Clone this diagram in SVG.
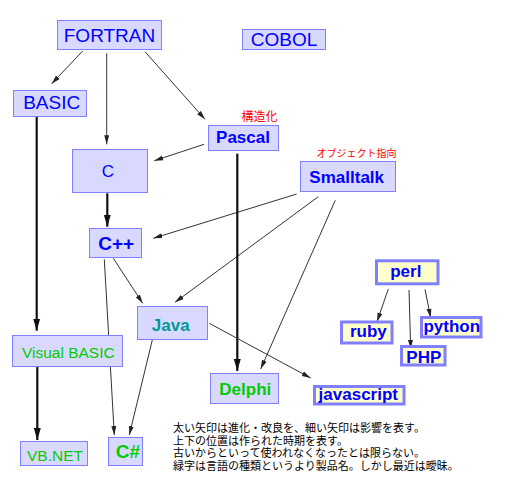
<svg xmlns="http://www.w3.org/2000/svg" width="512" height="492" viewBox="0 0 512 492">
<style>
.b{fill:#d9d9ff;stroke:#8080ff;stroke-width:1}
.y{fill:#ffffcc;stroke:#8080ff;stroke-width:3}
text{font-family:"Liberation Sans",Arial,sans-serif;text-anchor:middle}
.tb{fill:#0000ff}
.bold{font-weight:bold}
.tg{fill:#00cc00}
.tt{fill:#009999}
.thin{stroke:#333;stroke-width:1;fill:none;marker-end:url(#ah)}
.thick{stroke:#111;stroke-width:2.2;fill:none;marker-end:url(#ahb)}
.jp{font-family:"Noto Sans CJK JP",sans-serif;text-anchor:start}
</style>
<defs>
<marker id="ah" markerUnits="userSpaceOnUse" markerWidth="10" markerHeight="6" refX="9" refY="3" orient="auto"><path d="M0,0.5 L9,3 L0,5.5 z" fill="#222"/></marker>
<marker id="ahb" markerUnits="userSpaceOnUse" markerWidth="13" markerHeight="8" refX="12" refY="4" orient="auto"><path d="M0,0.5 L12,4 L0,7.5 z" fill="#111"/></marker>
</defs>
<rect width="512" height="492" fill="#fff"/>
<g id="connectors">
<line class="thin" x1="82.7" y1="51" x2="51.7" y2="83.7"/>
<line class="thin" x1="106.7" y1="53.3" x2="106.7" y2="144.3"/>
<line class="thin" x1="145" y1="51.7" x2="205" y2="119.3"/>
<line class="thin" x1="204" y1="144.3" x2="154.3" y2="160.7"/>
<line class="thick" x1="107.3" y1="193.3" x2="107.3" y2="226.7"/>
<line class="thick" x1="36.7" y1="116.7" x2="36.7" y2="330.7"/>
<line class="thin" x1="296.7" y1="194" x2="153.3" y2="238.3"/>
<line class="thin" x1="318.3" y1="196.7" x2="175" y2="302.3"/>
<line class="thin" x1="335.3" y1="200.3" x2="260.7" y2="369"/>
<line class="thick" x1="237.3" y1="153.7" x2="237.3" y2="371"/>
<line class="thin" x1="113.3" y1="258.3" x2="142.7" y2="303.3"/>
<line class="thin" x1="104.3" y1="259.3" x2="114.3" y2="435"/>
<line class="thin" x1="152.3" y1="340" x2="129.3" y2="435"/>
<line class="thin" x1="209.3" y1="323.3" x2="310.7" y2="378"/>
<line class="thick" x1="37.3" y1="366.7" x2="37.3" y2="440"/>
<line class="thin" x1="388.3" y1="289" x2="377" y2="321.7"/>
<line class="thin" x1="409" y1="290" x2="410.7" y2="349"/>
<line class="thin" x1="425" y1="289.3" x2="430.7" y2="317.7"/>
</g>
<g id="fortran"><rect class="b" x="57.5" y="20.5" width="104" height="29"/><text class="tb" x="109.5" y="41.5" font-size="19">FORTRAN</text></g>
<g id="cobol"><rect class="b" x="242.5" y="29.5" width="83" height="20"/><text class="tb" x="284" y="45.5" font-size="19">COBOL</text></g>
<g id="basic"><rect class="b" x="13.5" y="90.5" width="73" height="26"/><text class="tb" x="51.7" y="109" font-size="19">BASIC</text></g>
<g id="pascal"><rect class="b" x="208.5" y="125.5" width="70" height="25"/><text class="tb bold" x="243" y="143.3" font-size="17">Pascal</text><text class="jp" x="241.5" y="121" font-size="12" fill="#ff0000">構造化</text></g>
<g id="c"><rect class="b" x="72.5" y="149.5" width="75" height="43"/><text class="tb" x="108" y="177.3" font-size="17">C</text></g>
<g id="smalltalk"><rect class="b" x="300.5" y="161.5" width="95" height="30"/><text class="tb bold" x="346.7" y="182.7" font-size="17">Smalltalk</text><text class="jp" x="316.5" y="157" font-size="10" fill="#ff0000">オブジェクト指向</text></g>
<g id="cpp"><rect class="b" x="89.5" y="228.5" width="52" height="29"/><text class="tb bold" x="116.2" y="249.5" font-size="19">C++</text></g>
<g id="java"><rect class="b" x="137.5" y="306.5" width="70" height="33"/><text class="tt bold" x="170.7" y="330.7" font-size="17">Java</text></g>
<g id="visualbasic"><rect class="b" x="12.5" y="335.5" width="110" height="31"/><text class="tg" x="68.3" y="357.5" font-size="15.5">Visual BASIC</text></g>
<g id="vbnet"><rect class="b" x="20.5" y="441.5" width="67" height="24"/><text class="tg" x="55" y="460.5" font-size="15.5">VB.NET</text></g>
<g id="csharp"><rect class="b" x="108.5" y="437.5" width="34" height="28"/><text class="tg bold" x="128" y="458.3" font-size="19">C#</text></g>
<g id="delphi"><rect class="b" x="210.5" y="373.5" width="68" height="30"/><text class="tg bold" x="245.3" y="395" font-size="17">Delphi</text></g>
<g id="javascript"><rect class="y" x="314.5" y="386.5" width="89.5" height="17.5"/><text class="tb bold" x="358.3" y="400" font-size="17">javascript</text></g>
<g id="perl"><rect class="y" x="376.5" y="260.8" width="61.5" height="23"/><text class="tb bold" x="405.8" y="277.3" font-size="17">perl</text></g>
<g id="ruby"><rect class="y" x="341.5" y="322" width="50.5" height="21"/><text class="tb bold" x="368.3" y="337" font-size="17">ruby</text></g>
<g id="python"><rect class="y" x="421.5" y="317.5" width="59.5" height="19.5"/><text class="tb bold" x="451.8" y="331.5" font-size="17">python</text></g>
<g id="php"><rect class="y" x="401.5" y="346.5" width="43.5" height="18.5"/><text class="tb bold" x="423.8" y="363" font-size="17">PHP</text></g>
<g id="note" class="jp" font-size="11" fill="#000">
<text class="jp" x="173" y="432">太い矢印は進化・改良を、細い矢印は影響を表す。</text>
<text class="jp" x="173" y="444.5">上下の位置は作られた時期を表す。</text>
<text class="jp" x="173" y="457">古いからといって使われなくなったとは限らない。</text>
<text class="jp" x="173" y="469.5">緑字は言語の種類というより製品名。しかし最近は曖昧。</text>
</g>
</svg>
